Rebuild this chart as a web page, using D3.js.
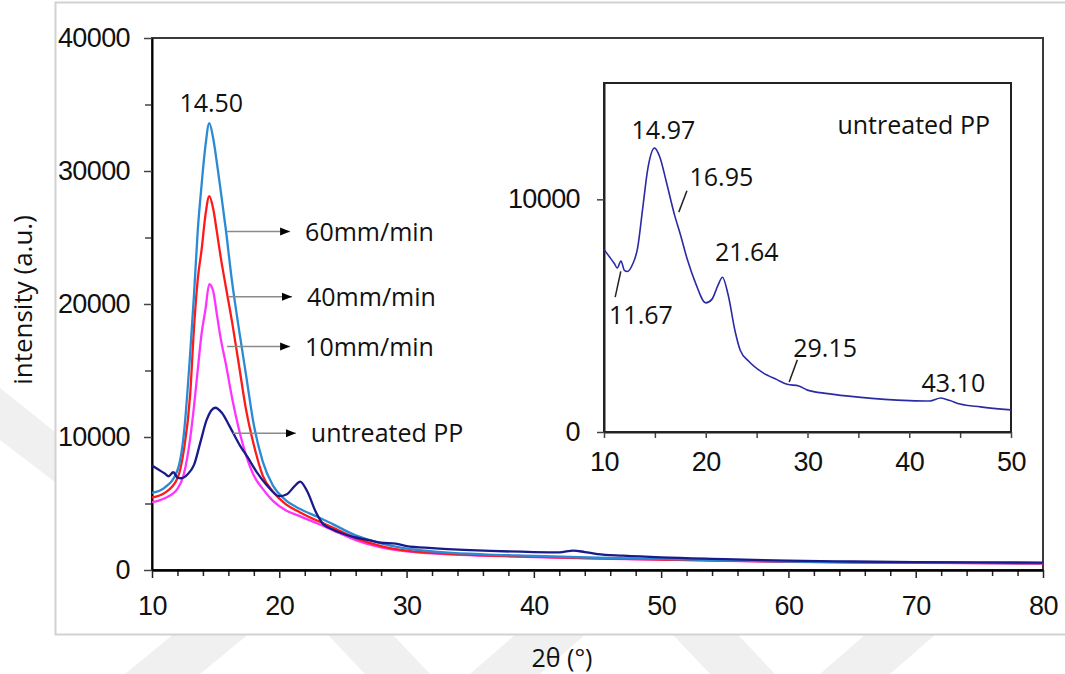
<!DOCTYPE html>
<html>
<head>
<meta charset="utf-8">
<script src="https://cdn.jsdelivr.net/npm/d3@7/dist/d3.min.js"></script>
<style>
  body { margin: 0; background: #fff; }
  svg { display: block; }
  .tick text { font-family: "Liberation Sans", Arial, sans-serif; font-size: 27px; letter-spacing: -0.6px; fill: #111; }
  .note { font-family: "Open Sans", "Noto Sans", sans-serif; font-size: 25px; fill: #111; }
</style>
</head>
<body>
<svg id="chart" width="1065" height="674"></svg>
<script>
// 2theta grid shared by the three treated samples
const gridX = [10, 11, 12, 12.5, 13, 13.3, 13.6, 13.9, 14.2, 14.5, 14.8, 15.1, 15.4, 15.8, 16.3, 16.8, 17.4, 18.0, 18.7, 19.5, 20.5, 21.6, 23, 24.2, 26, 28, 30, 33, 36, 40, 45, 50, 55, 60, 65, 70, 75, 80]
const pp60 = [5800, 6200, 7500, 10200, 16300, 20700, 25600, 29000, 31900, 33600, 32500, 30600, 28500, 25600, 21600, 18300, 14600, 10900, 8150, 6350, 5250, 4600, 4000, 3450, 2600, 2000, 1600, 1330, 1180, 1060, 920, 830, 730, 640, 590, 560, 530, 510]
const pp40 = [5450, 5800, 6900, 9000, 13200, 18200, 21900, 24100, 26700, 28100, 27200, 25400, 23500, 21300, 18600, 15600, 12000, 9400, 7100, 5900, 4950, 4350, 3700, 3200, 2400, 1800, 1450, 1230, 1100, 1000, 880, 790, 700, 630, 580, 550, 520, 500]
const pp10 = [5100, 5400, 6100, 7200, 9900, 12300, 15100, 17800, 19600, 21500, 21000, 19200, 17400, 15500, 12900, 10700, 8600, 7100, 6100, 5200, 4500, 4050, 3500, 3000, 2250, 1700, 1400, 1200, 1080, 970, 860, 780, 690, 620, 570, 540, 510, 490]

// untreated PP has its own grid
const rawX = [10, 10.5, 11, 11.3, 11.67, 12, 12.3, 12.8, 13.3, 13.8, 14.3, 14.97, 15.5, 16.1, 16.95, 17.5, 18.2, 19, 20, 20.6, 21.2, 21.64, 22.2, 22.9, 23.4, 24.2, 25.6, 27, 28, 29.15, 30, 32, 35, 40, 42, 43.1, 44, 45, 47, 50, 55, 60, 65, 70, 75, 80]
const ppRaw = [7850, 7550, 7250, 7050, 7350, 6950, 6900, 7200, 7900, 9600, 11300, 12200, 11800, 10800, 9300, 8500, 7400, 6400, 5550, 5700, 6300, 6650, 5900, 4300, 3500, 3050, 2550, 2250, 2050, 1980, 1800, 1650, 1500, 1350, 1330, 1460, 1350, 1200, 1080, 950, 820, 700, 640, 590, 570, 560]

const xTicks = [10, 20, 30, 40, 50, 60, 70, 80]
const yTicks = [0, 10000, 20000, 30000, 40000]
const insetXTicks = [10, 20, 30, 40, 50]
const insetYTicks = [0, 10000]

const seriesNames = ['10mm/min', '40mm/min', '60mm/min', 'untreated PP']
const seriesColors = ['#ff33ff', '#ff1a1a', '#2a8ad4', '#1a1a8a']

const peakMain = 14.50
const insetPeaks = ['14.97', '16.95', '21.64', '11.67', '29.15', '43.10']

const svg = d3.select('#chart')

// faint watermark behind the figure
const wm = [
	[[0, 388], [55, 432], [55, 482], [0, 440]],
	[[125, 674], [200, 674], [290, 600], [215, 600]],
	[[295, 600], [360, 600], [430, 674], [365, 674]],
	[[470, 674], [540, 674], [625, 600], [555, 600]],
	[[640, 600], [705, 600], [775, 674], [710, 674]],
	[[820, 674], [890, 674], [975, 600], [905, 600]]
]
svg.selectAll('.wm').data(wm).join('polygon')
	.attr('points', d => d.map(p => p.join(',')).join(' '))
	.attr('fill', '#f0f0f0')

// outer frame
svg.append('rect')
	.attr('x', 55.5).attr('y', 2.5).attr('width', 1030).attr('height', 632)
	.attr('fill', '#fff').attr('stroke', '#d2d2d2').attr('stroke-width', 2)

// main chart
const x = d3.scaleLinear().domain([10, 80]).range([152, 1043])
const y = d3.scaleLinear().domain([0, 40000]).range([570, 38])

svg.append('defs').append('clipPath').attr('id', 'clipMain')
	.append('rect').attr('x', 152).attr('y', 38).attr('width', 891).attr('height', 532)

svg.append('marker')
	.attr('id', 'head')
	.attr('viewBox', '0 0 10 10')
	.attr('refX', 10).attr('refY', 5)
	.attr('markerWidth', 10).attr('markerHeight', 10)
	.attr('markerUnits', 'userSpaceOnUse')
	.attr('orient', 'auto')
	.append('path').attr('d', 'M0,1 L10,5 L0,9 Z').attr('fill', '#000')

// box
svg.append('rect')
	.attr('x', 152).attr('y', 38).attr('width', 891).attr('height', 532)
	.attr('fill', 'none').attr('stroke', '#3a3a3a').attr('stroke-width', 2)

const xMinor = d3.range(12, 80, 2).filter(v => v % 10 !== 0)
svg.append('g').attr('transform', 'translate(0,570)')
	.call(d3.axisBottom(x).tickValues(xMinor).tickSize(6).tickFormat(''))
	.call(g => g.select('.domain').remove())
	.selectAll('line').attr('stroke', '#222').attr('stroke-width', 1.5)
svg.append('g').attr('transform', 'translate(0,570)')
	.call(d3.axisBottom(x).tickValues(xTicks).tickSizeInner(8).tickSizeOuter(0).tickPadding(18).tickFormat(d3.format('d')))
	.call(g => g.select('.domain').attr('stroke', '#000').attr('stroke-width', 2.5))
	.call(g => g.selectAll('line').attr('stroke', '#222').attr('stroke-width', 1.5))

const yMinor = [5000, 15000, 25000, 35000]
svg.append('g').attr('transform', 'translate(152,0)')
	.call(d3.axisLeft(y).tickValues(yMinor).tickSize(7).tickFormat(''))
	.call(g => g.select('.domain').remove())
	.selectAll('line').attr('stroke', '#444').attr('stroke-width', 1.5)
svg.append('g').attr('transform', 'translate(152,0)')
	.call(d3.axisLeft(y).tickValues(yTicks).tickSizeInner(8).tickSizeOuter(0).tickPadding(14).tickFormat(d3.format('d')))
	.call(g => g.select('.domain').attr('stroke', '#000').attr('stroke-width', 2))
	.call(g => g.selectAll('line').attr('stroke', '#444').attr('stroke-width', 1.5))

const line = d3.line()
	.x(d => x(d[0]))
	.y(d => y(d[1]))
	.curve(d3.curveMonotoneX)

const mainSeries = [
	gridX.map((v, i) => [v, pp10[i]]),
	gridX.map((v, i) => [v, pp40[i]]),
	gridX.map((v, i) => [v, pp60[i]]),
	rawX.map((v, i) => [v, ppRaw[i]])
]

svg.append('g').attr('clip-path', 'url(#clipMain)')
	.selectAll('path').data(mainSeries).join('path')
	.attr('d', line)
	.attr('fill', 'none')
	.attr('stroke', (d, i) => seriesColors[i])
	.attr('stroke-width', 2.3)
	.attr('stroke-linejoin', 'round')

// peak label
svg.append('text').attr('class', 'note')
	.attr('x', x(peakMain) + 2).attr('y', 112)
	.attr('text-anchor', 'middle')
	.text(peakMain.toFixed(2))

// arrows to series labels: [value on y, start 2theta, end 2theta]
const arrows = [
	{ name: seriesNames[2], v: 25450, from: 15.9, to: 20.85 },
	{ name: seriesNames[1], v: 20550, from: 16.0, to: 21.0 },
	{ name: seriesNames[0], v: 16800, from: 15.9, to: 20.85 },
	{ name: seriesNames[3], v: 10280, from: 16.35, to: 21.3 }
]
const ag = svg.append('g')
ag.selectAll('line').data(arrows).join('line')
	.attr('x1', d => x(d.from)).attr('x2', d => x(d.to))
	.attr('y1', d => y(d.v)).attr('y2', d => y(d.v))
	.attr('stroke', '#8a8a8a').attr('stroke-width', 1.5)
	.attr('marker-end', 'url(#head)')
ag.selectAll('text').data(arrows).join('text')
	.attr('class', 'note')
	.attr('x', d => x(d.to) + 15)
	.attr('y', d => y(d.v) + 9)
	.text(d => d.name)

// axis titles
svg.append('text').attr('class', 'note')
	.attr('transform', 'translate(32,300) rotate(-90)')
	.attr('text-anchor', 'middle')
	.style('font-size', '26px')
	.text('intensity (a.u.)')
svg.append('text').attr('class', 'note')
	.attr('x', 562).attr('y', 667)
	.attr('text-anchor', 'middle')
	.text('2θ (°)')

// inset
const ix = d3.scaleLinear().domain([10, 50]).range([604, 1011])
const iy = d3.scaleLinear().domain([0, 15000]).range([432, 83])

svg.append('rect')
	.attr('x', 604).attr('y', 83).attr('width', 407).attr('height', 349)
	.attr('fill', '#fff').attr('stroke', '#222').attr('stroke-width', 2)

svg.append('g').attr('transform', 'translate(0,432)')
	.call(d3.axisBottom(ix).tickValues([15, 25, 35, 45]).tickSize(6).tickFormat(''))
	.call(g => g.select('.domain').remove())
	.selectAll('line').attr('stroke', '#444').attr('stroke-width', 1.5)
svg.append('g').attr('transform', 'translate(0,432)')
	.call(d3.axisBottom(ix).tickValues(insetXTicks).tickSizeInner(6).tickSizeOuter(0).tickPadding(14).tickFormat(d3.format('d')))
	.call(g => g.select('.domain').attr('stroke', '#222').attr('stroke-width', 2))
	.call(g => g.selectAll('line').attr('stroke', '#444').attr('stroke-width', 1.5))
svg.append('g').attr('transform', 'translate(604,0)')
	.call(d3.axisLeft(iy).tickValues(insetYTicks).tickSizeInner(7).tickSizeOuter(0).tickPadding(17).tickFormat(d3.format('d')))
	.call(g => g.select('.domain').attr('stroke', '#222').attr('stroke-width', 2))
	.call(g => g.selectAll('line').attr('stroke', '#444').attr('stroke-width', 1.5))

const insetData = rawX.map((v, i) => [v, ppRaw[i]]).filter(d => d[0] <= 50)
svg.append('path')
	.datum(insetData)
	.attr('d', d3.line().x(d => ix(d[0])).y(d => iy(d[1])).curve(d3.curveMonotoneX))
	.attr('fill', 'none')
	.attr('stroke', '#2a2aa6')
	.attr('stroke-width', 1.6)

svg.append('text').attr('class', 'note')
	.attr('x', 990).attr('y', 134).attr('text-anchor', 'end')
	.text(seriesNames[3])

// inset peak labels: text position and optional leader line, in inset data units
const insetNotes = [
	{ t: insetPeaks[0], tx: 12.7, ty: 12600 },
	{ t: insetPeaks[1], tx: 18.4, ty: 10560, lx1: 17.35, ly1: 9450, lx2: 18.15, ly2: 10370 },
	{ t: insetPeaks[2], tx: 20.9, ty: 7370 },
	{ t: insetPeaks[3], tx: 10.5, ty: 4640, lx1: 11.65, ly1: 6900, lx2: 11.1, ly2: 5800 },
	{ t: insetPeaks[4], tx: 28.6, ty: 3230, lx1: 28.2, ly1: 2150, lx2: 29.0, ly2: 3100 },
	{ t: insetPeaks[5], tx: 41.2, ty: 1740 }
]
svg.selectAll('.inote').data(insetNotes).join('text')
	.attr('class', 'note inote')
	.attr('x', d => ix(d.tx)).attr('y', d => iy(d.ty))
	.text(d => d.t)
svg.selectAll('.ilead').data(insetNotes.filter(d => d.lx1)).join('line')
	.attr('class', 'ilead')
	.attr('x1', d => ix(d.lx1)).attr('y1', d => iy(d.ly1))
	.attr('x2', d => ix(d.lx2)).attr('y2', d => iy(d.ly2))
	.attr('stroke', '#222').attr('stroke-width', 1.5)
</script>
</body>
</html>
